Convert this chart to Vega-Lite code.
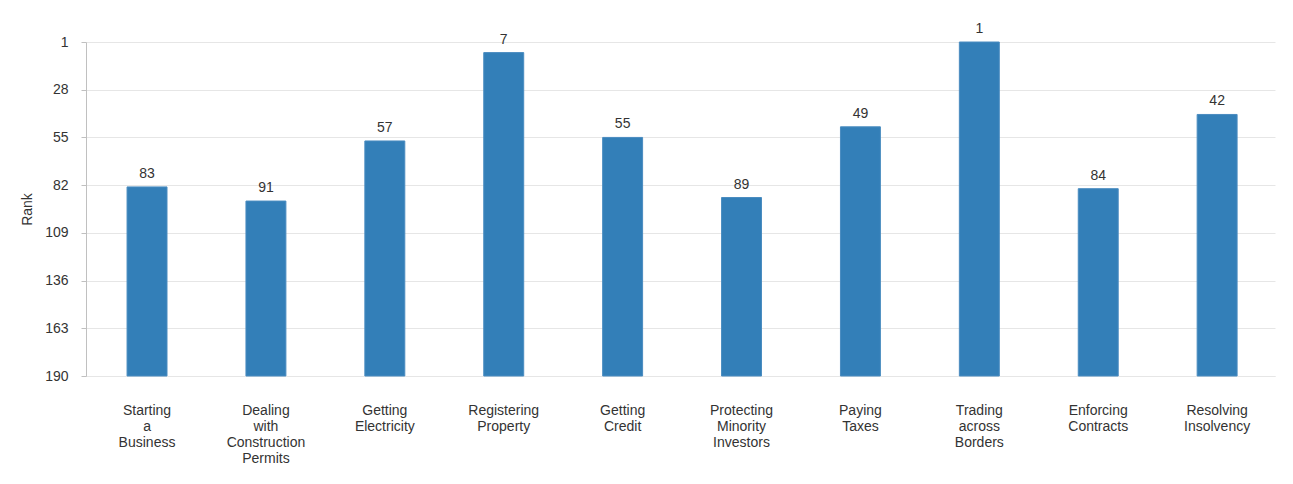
{
  "$schema": "https://vega.github.io/schema/vega-lite/v6.json",
  "width": 1189,
  "height": 334,
  "padding": {"left": 86, "top": 42, "right": 18, "bottom": 108},
  "autosize": {"type": "none"},
  "background": "white",
  "config": {
    "view": {"stroke": null},
    "font": "Liberation Sans",
    "axis": {"labelFont": "Liberation Sans", "titleFont": "Liberation Sans", "labelColor": "#333333", "titleColor": "#333333", "labelFontSize": 14, "titleFontSize": 14, "titleFontWeight": "normal"}
  },
  "data": {
    "values": [
      {"indicator": "Starting a Business", "rank": 83},
      {"indicator": "Dealing with Construction Permits", "rank": 91},
      {"indicator": "Getting Electricity", "rank": 57},
      {"indicator": "Registering Property", "rank": 7},
      {"indicator": "Getting Credit", "rank": 55},
      {"indicator": "Protecting Minority Investors", "rank": 89},
      {"indicator": "Paying Taxes", "rank": 49},
      {"indicator": "Trading across Borders", "rank": 1},
      {"indicator": "Enforcing Contracts", "rank": 84},
      {"indicator": "Resolving Insolvency", "rank": 42}
    ]
  },
  "encoding": {
    "x": {
      "field": "indicator",
      "type": "nominal",
      "sort": null,
      "scale": {"paddingInner": 0.664, "paddingOuter": 0.332, "align": 0.52},
      "axis": {
        "title": null,
        "labelAngle": 0,
        "labelExpr": "split(datum.label, ' ')",
        "labelLineHeight": 16,
        "labelPadding": 27,
        "labelBaseline": "top",
        "ticks": false,
        "domain": true,
        "domainColor": "#e6e6e6",
        "grid": false
      }
    }
  },
  "layer": [
    {
      "mark": {"type": "bar", "color": "#337fb8", "stroke": "#4a8cc0", "strokeWidth": 1},
      "encoding": {
        "y": {
          "field": "rank",
          "type": "quantitative",
          "scale": {"domain": [1, 190], "reverse": true, "zero": false, "nice": false},
          "axis": {
            "title": "Rank",
            "values": [1, 28, 55, 82, 109, 136, 163, 190],
            "grid": true,
            "gridColor": "#e6e6e6",
            "domainColor": "#c0c0c0",
            "tickColor": "#c0c0c0",
            "tickSize": 5,
            "labelPadding": 13,
            "titlePadding": 10
          }
        },
        "y2": {"datum": 190}
      }
    },
    {
      "mark": {"type": "text", "baseline": "bottom", "dy": -6, "fontSize": 14, "color": "#333333", "font": "Liberation Sans"},
      "encoding": {
        "y": {"field": "rank", "type": "quantitative"},
        "text": {"field": "rank", "type": "quantitative"}
      }
    }
  ]
}
